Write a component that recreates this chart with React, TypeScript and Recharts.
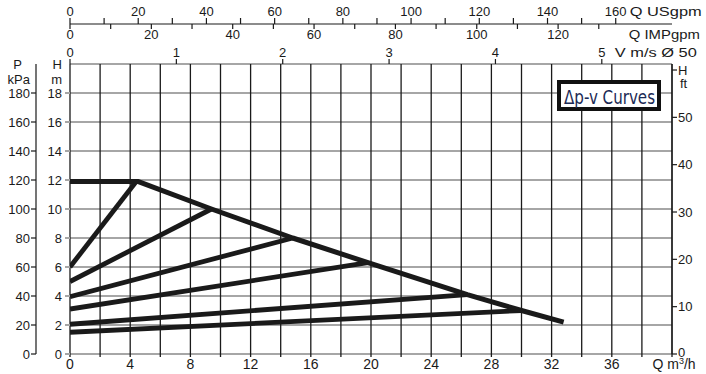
import React from "react";
import { LineChart, Line, XAxis, YAxis, CartesianGrid } from "recharts";

// Q in m³/h, H in m
const maxFlow = [0, 4.5, 9.4, 14.8, 19.8, 26.4, 30.0, 32.8];
const maxHead = [11.9, 11.9, 10.0, 8.0, 6.3, 4.1, 3.0, 2.2];
const dpvStartHead = [6.0, 5.0, 3.95, 3.1, 2.05, 1.5];
const dpvEndFlow = [4.4, 9.4, 14.8, 19.8, 26.4, 30.0];
const dpvEndHead = [11.9, 10.0, 8.0, 6.3, 4.1, 3.0];

const qTicks = [0, 2, 4, 6, 8, 10, 12, 14, 16, 18, 20, 22, 24, 26, 28, 30, 32, 34, 36, 38, 40];
const usTicks = [0, 10, 20, 30, 40, 50, 60, 70, 80, 90, 100, 110, 120, 130, 140, 150, 160];
const impTicks = [0, 10, 20, 30, 40, 50, 60, 70, 80, 90, 100, 110, 120, 130];
const vTicks = [0, 1, 2, 3, 4, 5];
const hTicks = [0, 2, 4, 6, 8, 10, 12, 14, 16, 18, 20];
const pTicks = [0, 20, 40, 60, 80, 100, 120, 140, 160, 180, 200];
const ftTicks = [0, 10, 20, 30, 40, 50, 60];

const INK = "#1a1a1a";
const GRID = "#a6a6a6";
const FONT = "'Liberation Sans', Arial, sans-serif";

const maxCurve = maxFlow.map((q, i) => ({ q, h: maxHead[i] }));
const dpvCurves = dpvStartHead.map((h0, i) => [
  { q: 0, h: h0 },
  { q: dpvEndFlow[i], h: dpvEndHead[i] },
]);

const txt = { fontFamily: FONT, fontSize: 13, fill: INK };

const UsTick = ({ x, y, payload }: any) => {
  const v = payload.value;
  return (
    <g>
      <line x1={x} x2={x} y1={y - 6} y2={y} stroke={INK} strokeWidth={1.2} />
      {v % 20 === 0 && (
        <text x={x} y={y - 8} textAnchor="middle" {...txt}>
          {v}
        </text>
      )}
      {v === 160 && (
        <text x={x + 14} y={y - 8} {...txt} textLength={72} lengthAdjust="spacingAndGlyphs">
          Q USgpm
        </text>
      )}
    </g>
  );
};

const ImpTick = ({ x, y, payload }: any) => {
  const v = payload.value;
  return (
    <g>
      <line x1={x} x2={x} y1={y - 18} y2={y - 13} stroke={INK} strokeWidth={1.2} />
      {v % 20 === 0 && (
        <text x={x} y={y - 2.7} textAnchor="middle" {...txt}>
          {v}
        </text>
      )}
      {v === 130 && (
        <text x={x + 30} y={y - 2.7} {...txt} textLength={71} lengthAdjust="spacingAndGlyphs">
          Q IMPgpm
        </text>
      )}
    </g>
  );
};

const VTick = ({ x, y, payload }: any) => {
  const v = payload.value;
  return (
    <g>
      <line x1={x} x2={x} y1={y - 5} y2={y} stroke={INK} strokeWidth={1.2} />
      <text x={x} y={y - 7.5} textAnchor="middle" {...txt}>
        {v}
      </text>
      {v === 5 && (
        <text x={x + 13} y={y - 7.5} {...txt} textLength={82} lengthAdjust="spacingAndGlyphs">
          V m/s Ø 50
        </text>
      )}
    </g>
  );
};

const QTick = ({ x, y, payload }: any) => {
  const v = payload.value;
  const stub = <line x1={x} x2={x} y1={y} y2={y + 3} stroke={INK} strokeWidth={1.3} />;
  if (v === 40)
    return (
      <g>
        {stub}
        <text x={x + 2} y={y + 15} textAnchor="middle" {...txt} fontSize={14}>
          Q m<tspan fontSize={9} dy={-5}>3</tspan>
          <tspan dy={5}>/h</tspan>
        </text>
      </g>
    );
  return (
    <g>
      {stub}
      {v % 4 === 0 && (
        <text x={x} y={y + 14.5} textAnchor="middle" {...txt} fontSize={14}>
          {v}
        </text>
      )}
    </g>
  );
};

const HTick = ({ x, y, payload }: any) => {
  const v = payload.value;
  if (v === 20)
    return (
      <g>
        <text x={x - 8} y={y + 4.5} textAnchor="end" {...txt}>
          H
        </text>
        <text x={x - 8} y={y + 19.5} textAnchor="end" {...txt}>
          m
        </text>
      </g>
    );
  return (
    <g>
      <line x1={x - 5} x2={x} y1={y} y2={y} stroke={GRID} strokeWidth={2} />
      <text x={x - 8} y={y + 4.5} textAnchor="end" {...txt}>
        {v}
      </text>
    </g>
  );
};

const PTick = ({ x, y, payload }: any) => {
  const v = payload.value;
  if (v === 200)
    return (
      <g>
        <text x={x - 18.5} y={y + 4.5} textAnchor="middle" {...txt}>
          P
        </text>
        <text x={x - 6} y={y + 19.5} textAnchor="end" {...txt}>
          kPa
        </text>
      </g>
    );
  return (
    <g>
      <line x1={x - 5} x2={x} y1={y} y2={y} stroke={INK} strokeWidth={1.2} />
      <text x={x - 6} y={y + 4.5} textAnchor="end" {...txt}>
        {v}
      </text>
    </g>
  );
};

const FtTick = ({ x, y, payload }: any) => {
  const v = payload.value;
  return (
    <g>
      <line x1={x} x2={x + 5} y1={y} y2={y} stroke={INK} strokeWidth={1.2} />
      <text x={x + 6} y={v === 0 ? y + 2.5 : y + 4.7} {...txt}>
        {v === 60 ? "H" : v}
      </text>
      {v === 60 && (
        <text x={x + 8} y={y + 18} {...txt}>
          ft
        </text>
      )}
    </g>
  );
};

export default function App() {
  return (
    <div style={{ position: "absolute", left: 0, top: 0, width: 706, height: 374, background: "#fff" }}>
      <LineChart width={706} height={374} margin={{ top: 0, right: 0, bottom: 0, left: 0 }}>
        <XAxis
          xAxisId="q"
          dataKey="q"
          type="number"
          orientation="bottom"
          domain={[0, 40]}
          ticks={qTicks}
          allowDataOverflow
          interval={0}
          height={20}
          tickSize={0}
          tickMargin={0}
          axisLine={false}
          tickLine={false}
          tick={QTick}
        />
        <XAxis
          xAxisId="t1v"
          dataKey="v"
          type="number"
          orientation="top"
          domain={[0, 5.66]}
          ticks={vTicks}
          allowDataOverflow
          interval={0}
          height={22}
          tickSize={0}
          tickMargin={0}
          axisLine={false}
          tickLine={false}
          tick={VTick}
        />
        <XAxis
          xAxisId="t2imp"
          dataKey="imp"
          type="number"
          orientation="top"
          domain={[0, 148]}
          ticks={impTicks}
          allowDataOverflow
          interval={0}
          height={18}
          tickSize={0}
          tickMargin={0}
          axisLine={false}
          tickLine={false}
          tick={ImpTick}
        />
        <XAxis
          xAxisId="t3us"
          dataKey="us"
          type="number"
          orientation="top"
          domain={[0, 176.5]}
          ticks={usTicks}
          allowDataOverflow
          interval={0}
          height={24}
          tickSize={0}
          tickMargin={0}
          axisLine={{ stroke: INK, strokeWidth: 1.2 }}
          tickLine={false}
          tick={UsTick}
        />
        <YAxis
          yAxisId="h"
          type="number"
          orientation="left"
          domain={[0, 20]}
          ticks={hTicks}
          allowDataOverflow
          interval={0}
          width={34}
          tickSize={0}
          tickMargin={0}
          axisLine={false}
          tickLine={false}
          tick={HTick}
        />
        <YAxis
          yAxisId="p"
          type="number"
          orientation="left"
          domain={[0, 200]}
          ticks={pTicks}
          allowDataOverflow
          interval={0}
          width={36}
          tickSize={0}
          tickMargin={0}
          axisLine={{ stroke: INK, strokeWidth: 1.2 }}
          tickLine={false}
          tick={PTick}
        />
        <YAxis
          yAxisId="ft"
          type="number"
          orientation="right"
          domain={[0, 61.27]}
          ticks={ftTicks}
          allowDataOverflow
          interval={0}
          width={34}
          tickSize={0}
          tickMargin={0}
          axisLine={{ stroke: INK, strokeWidth: 1.2 }}
          tickLine={false}
          tick={FtTick}
        />
        <CartesianGrid xAxisId="q" yAxisId="h" vertical={false} stroke={GRID} strokeWidth={2} />
        <CartesianGrid xAxisId="q" yAxisId="h" horizontal={false} stroke={INK} strokeWidth={1.3} />
        {dpvCurves.map((d, i) => (
          <Line
            key={i}
            xAxisId="q"
            yAxisId="h"
            data={d}
            dataKey="h"
            type="linear"
            stroke={INK}
            strokeWidth={4.8}
            dot={false}
            activeDot={false}
            isAnimationActive={false}
          />
        ))}
        <Line
          xAxisId="q"
          yAxisId="h"
          data={maxCurve}
          dataKey="h"
          type="linear"
          stroke={INK}
          strokeWidth={5}
          strokeLinejoin="round"
          dot={false}
          activeDot={false}
          isAnimationActive={false}
        />
      </LineChart>
      <svg width={120} height={40} style={{ position: "absolute", left: 549, top: 76, overflow: "visible" }}>
        <rect x={10} y={6} width={100} height={27} fill="#fff" stroke="#111" strokeWidth={4} />
        <text
          x={15}
          y={28}
          fontFamily="'Liberation Sans Narrow', 'DejaVu Sans Condensed', 'Liberation Sans', sans-serif"
          fontSize={20}
          fill="#1b2a55"
          textLength={91}
          lengthAdjust="spacingAndGlyphs"
        >
          Δp-v Curves
        </text>
      </svg>
    </div>
  );
}
